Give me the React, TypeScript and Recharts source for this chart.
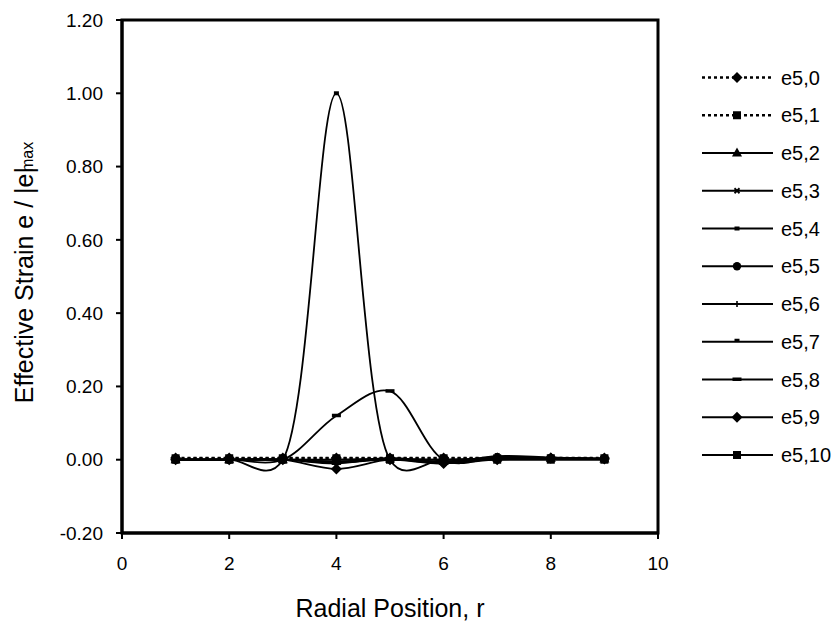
import React from 'react';
import { LineChart, Line, XAxis, YAxis, ReferenceArea, Legend, Label } from 'recharts';

const positions = [1, 2, 3, 4, 5, 6, 7, 8, 9];
const e5_0 = [0.005, 0.005, 0.005, 0.005, 0.005, 0.005, 0.005, 0.005, 0.005];
const e5_1 = [0.004, 0.004, 0.004, 0.004, 0.004, 0.004, 0.004, 0.004, 0.004];
const e5_2 = [0, 0, 0, -0.005, 0.002, -0.005, 0.005, 0.004, 0.002];
const e5_3 = [0, 0, 0, -0.008, 0, -0.01, 0.006, 0.003, 0.002];
const e5_4 = [0, 0, 0, 1.0, 0, 0, 0, 0, 0];
const e5_5 = [0, 0, 0, 0, 0.003, 0, 0.004, 0.004, 0.003];
const e5_6 = [0, 0, 0, -0.005, 0, -0.005, 0.008, 0.005, 0.002];
const e5_7 = [0, 0, 0, -0.01, 0.005, -0.008, 0.01, 0.006, 0.002];
const e5_8 = [0, 0, 0, 0.12, 0.187, 0, 0.005, 0.003, 0.002];
const e5_9 = [0, 0, 0, -0.025, 0, -0.01, 0, 0.005, 0.002];
const e5_10 = [0, 0, 0, 0, 0, 0, 0, 0, 0];

const seriesNames = ['e5,0', 'e5,1', 'e5,2', 'e5,3', 'e5,4', 'e5,5', 'e5,6', 'e5,7', 'e5,8', 'e5,9', 'e5,10'];
const seriesValues = [e5_0, e5_1, e5_2, e5_3, e5_4, e5_5, e5_6, e5_7, e5_8, e5_9, e5_10];
const seriesMarkers = ['diamond', 'square', 'triangle', 'cross', 'smallsquare', 'circle', 'plus', 'shortdash', 'longdash', 'diamond', 'square'];
const seriesDotted = [true, true, false, false, false, false, false, false, false, false, false];

const xTicks = [0, 2, 4, 6, 8, 10];
const yTicks = [-0.2, 0, 0.2, 0.4, 0.6, 0.8, 1.0, 1.2];

const data = positions.map((r, i) => {
  const row: any = { r };
  seriesNames.forEach((n, k) => {
    row['s' + k] = seriesValues[k][i];
  });
  return row;
});

const FONT = '"Liberation Sans", Arial, sans-serif';

function makeSmooth(alpha: number) {
  return (context: any) => {
    let pts: [number, number][] = [];
    return {
      areaStart() {},
      areaEnd() {},
      lineStart() {
        pts = [];
      },
      point(x: number, y: number) {
        pts.push([+x, +y]);
      },
      lineEnd() {
        const n = pts.length;
        if (n === 0) return;
        context.moveTo(pts[0][0], pts[0][1]);
        if (n === 1) return;
        for (let i = 0; i < n - 1; i++) {
          const p0 = pts[i - 1] || pts[i];
          const p1 = pts[i];
          const p2 = pts[i + 1];
          const p3 = pts[i + 2] || pts[i + 1];
          const d01 = Math.hypot(p1[0] - p0[0], p1[1] - p0[1]);
          const d12 = Math.hypot(p2[0] - p1[0], p2[1] - p1[1]);
          const d23 = Math.hypot(p3[0] - p2[0], p3[1] - p2[1]);
          const l01a = Math.pow(d01, alpha), l01_2a = Math.pow(d01, 2 * alpha);
          const l12a = Math.pow(d12, alpha), l12_2a = Math.pow(d12, 2 * alpha);
          const l23a = Math.pow(d23, alpha), l23_2a = Math.pow(d23, 2 * alpha);
          let x1 = p1[0], y1 = p1[1], x2 = p2[0], y2 = p2[1];
          if (d01 > 1e-9) {
            const a = 2 * l01_2a + 3 * l01a * l12a + l12_2a;
            const nn = 3 * l01a * (l01a + l12a);
            x1 = (p1[0] * a - p0[0] * l12_2a + p2[0] * l01_2a) / nn;
            y1 = (p1[1] * a - p0[1] * l12_2a + p2[1] * l01_2a) / nn;
          }
          if (d23 > 1e-9) {
            const b = 2 * l23_2a + 3 * l23a * l12a + l12_2a;
            const m = 3 * l23a * (l23a + l12a);
            x2 = (p2[0] * b + p1[0] * l23_2a - p3[0] * l12_2a) / m;
            y2 = (p2[1] * b + p1[1] * l23_2a - p3[1] * l12_2a) / m;
          }
          context.bezierCurveTo(x1, y1, x2, y2, p2[0], p2[1]);
        }
      },
    };
  };
}

const smoothCurve = makeSmooth(0.3);

function Marker({ shape, cx, cy }: { shape: string; cx: number; cy: number }) {
  switch (shape) {
    case 'diamond':
      return <polygon points={`${cx},${cy - 5.5} ${cx + 5.5},${cy} ${cx},${cy + 5.5} ${cx - 5.5},${cy}`} fill="#000" />;
    case 'square':
      return <rect x={cx - 4} y={cy - 4} width={8} height={8} fill="#000" />;
    case 'triangle':
      return <polygon points={`${cx},${cy - 5.5} ${cx + 5},${cy + 3.5} ${cx - 5},${cy + 3.5}`} fill="#000" />;
    case 'cross':
      return (
        <g stroke="#000" strokeWidth={1.8}>
          <line x1={cx - 2.5} y1={cy - 2.5} x2={cx + 2.5} y2={cy + 2.5} />
          <line x1={cx - 2.5} y1={cy + 2.5} x2={cx + 2.5} y2={cy - 2.5} />
        </g>
      );
    case 'smallsquare':
      return <rect x={cx - 2.5} y={cy - 2} width={5} height={4} fill="#000" />;
    case 'circle':
      return <circle cx={cx} cy={cy} r={4.2} fill="#000" />;
    case 'plus':
      return (
        <g stroke="#000" strokeWidth={1.6}>
          <line x1={cx - 3} y1={cy} x2={cx + 3} y2={cy} />
          <line x1={cx} y1={cy - 3} x2={cx} y2={cy + 3} />
        </g>
      );
    case 'shortdash':
      return <rect x={cx - 2.5} y={cy - 3} width={5} height={3} fill="#000" />;
    case 'longdash':
      return <rect x={cx - 4.5} y={cy - 2} width={9} height={3.5} fill="#000" />;
    default:
      return null;
  }
}

function LegendContent() {
  return (
    <svg width={137} height={420} style={{ overflow: 'visible' }}>
      {seriesNames.map((name, i) => {
        const cy = 21.5 + i * 37.75;
        return (
          <g key={name}>
            <line
              x1={2}
              x2={73}
              y1={cy}
              y2={cy}
              stroke="#000"
              strokeWidth={seriesDotted[i] ? 2.5 : 1.8}
              strokeDasharray={seriesDotted[i] ? '3 3' : undefined}
            />
            <Marker shape={seriesMarkers[i]} cx={37} cy={cy} />
            <text x={81} y={cy} dy="0.35em" fontSize={20} fontFamily={FONT} fill="#000">
              {name}
            </text>
          </g>
        );
      })}
    </svg>
  );
}

function XTitle(props: any) {
  const vb = props.viewBox || { x: 122, y: 533, width: 536 };
  return (
    <text x={vb.x + vb.width / 2} y={617} textAnchor="middle" fontSize={25} fontFamily={FONT} fill="#000">
      Radial Position, r
    </text>
  );
}

function YTitle(props: any) {
  const vb = props.viewBox || { x: 32, y: 20, height: 513 };
  const x = 33;
  const y = vb.y + vb.height / 2 - 4;
  return (
    <text
      x={x}
      y={y}
      transform={`rotate(-90, ${x}, ${y})`}
      textAnchor="middle"
      fontSize={25}
      fontFamily={FONT}
      fill="#000"
    >
      Effective Strain e / |e|
      <tspan fontSize={16} dx={-5}>max</tspan>
    </text>
  );
}

export default function App() {
  return (
    <div style={{ position: 'absolute', left: 0, top: 0, background: '#fff' }}>
      <LineChart width={837} height={625} data={data} margin={{ top: 20, right: 179, bottom: 32, left: 32 }}>
        <XAxis
          type="number"
          dataKey="r"
          domain={[0, 10]}
          ticks={xTicks}
          allowDataOverflow
          height={60}
          tickSize={6}
          tickMargin={18}
          axisLine={{ stroke: '#000', strokeWidth: 3 }}
          tickLine={{ stroke: '#000', strokeWidth: 2 }}
          tick={{ fill: '#000', fontSize: 19, fontFamily: FONT }}
        >
          <Label content={<XTitle />} />
        </XAxis>
        <YAxis
          type="number"
          domain={[-0.2, 1.2]}
          ticks={yTicks}
          allowDataOverflow
          width={90}
          tickSize={6}
          tickMargin={13}
          tickFormatter={(v: number) => v.toFixed(2)}
          axisLine={{ stroke: '#000', strokeWidth: 3 }}
          tickLine={{ stroke: '#000', strokeWidth: 2 }}
          tick={{ fill: '#000', fontSize: 19, fontFamily: FONT }}
        >
          <Label content={<YTitle />} />
        </YAxis>
        <ReferenceArea x1={0} x2={10} y1={-0.2} y2={1.2} fill="none" fillOpacity={0} stroke="#000" strokeWidth={3} />
        {seriesNames.map((name, k) => (
          <Line
            key={name}
            name={name}
            dataKey={'s' + k}
            type={smoothCurve as any}
            stroke="#000"
            strokeWidth={seriesDotted[k] ? 2.5 : 1.8}
            strokeDasharray={seriesDotted[k] ? '3 3' : undefined}
            isAnimationActive={false}
            activeDot={false}
            dot={(p: any) => <Marker key={name + '-' + p.index} shape={seriesMarkers[k]} cx={p.cx} cy={p.cy} />}
          />
        ))}
        <Legend
          layout="horizontal"
          verticalAlign="middle"
          align="center"
          wrapperStyle={{ left: 700, top: 56, width: 137, height: 420 }}
          content={<LegendContent />}
        />
      </LineChart>
    </div>
  );
}
